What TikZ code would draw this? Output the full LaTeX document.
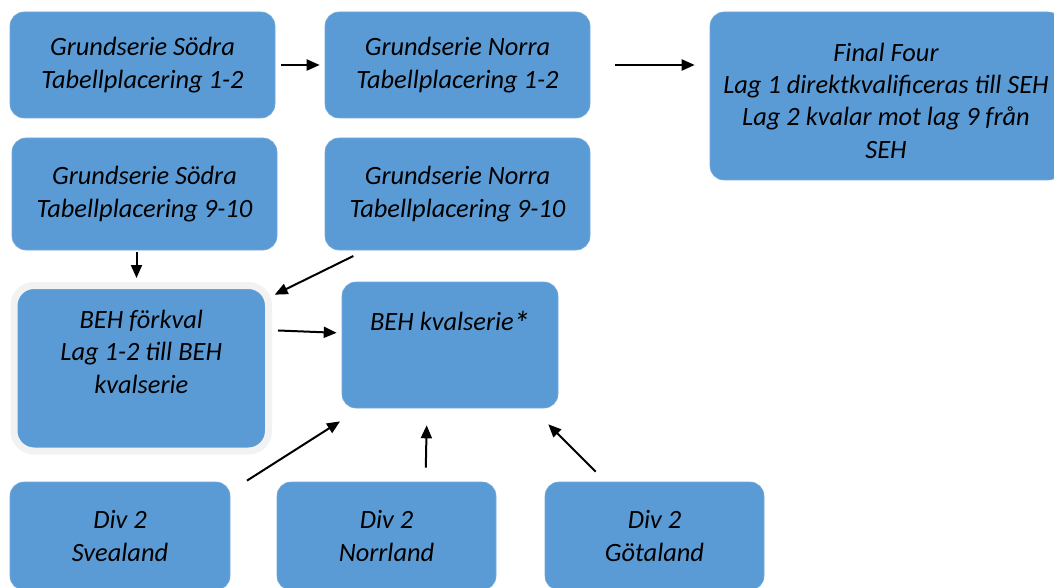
\documentclass[tikz,border=0pt]{standalone}
\usepackage{fontspec}
\setmainfont{Carlito}
\usepackage{xcolor}
\usepackage{tikz}
\usetikzlibrary{arrows.meta, positioning}
\definecolor{boxblue}{HTML}{5B9BD5}
\definecolor{rimgray}{HTML}{F2F2F2}

\begin{document}
\begin{tikzpicture}[
        x=1pt, y=-1pt,
        box/.style={rectangle, rounded corners=14pt, fill=boxblue, draw=boxblue!85!white, line width=0.6pt, align=center, inner sep=0pt, font=\itshape\fontsize{26.4}{32.3}\selectfont},
        txt/.style={align=center, inner sep=0pt, font=\itshape\fontsize{26.4}{32.3}\selectfont},
        arrow/.style={-{Triangle[length=13pt,width=11pt]}, line width=2pt}
    ]
        \useasboundingbox (0,0) rectangle (1054,588);
        \node[box, minimum width=265, minimum height=106] (GS1) at (142.5,65) {Grundserie Södra\\Tabellplacering 1-2};
        \node[box, minimum width=265, minimum height=106] (GN1) at (457.5,65) {Grundserie Norra\\Tabellplacering 1-2};
        \node[box, minimum width=352, minimum height=168] (FF) at (886,96) {};
        \node[txt, below=31pt of FF.north] (FFtext) {Final Four\\Lag 1 direktkvalificeras till SEH\\Lag 2 kvalar mot lag 9 från\\SEH};
        \node[box, minimum width=265, minimum height=112] (GS9) at (144.5,194) {Grundserie Södra\\Tabellplacering 9-10};
        \node[box, minimum width=265, minimum height=112] (GN9) at (457.5,194) {Grundserie Norra\\Tabellplacering 9-10};
        \node[box, draw=rimgray, line width=7pt, rounded corners=20pt, minimum width=254.5, minimum height=165.5] (FK) at (141.25,368.25) {};
        \node[txt, below=28pt of FK.north] (FKtext) {BEH förkval\\Lag 1-2 till BEH\\kvalserie};
        \node[box, minimum width=216, minimum height=126] (Kval) at (450,345) {};
        \node[txt, below=29pt of Kval.north] (Kvaltext) {BEH kvalserie\kern-1pt\raisebox{-5pt}{\scalebox{1.3}{*}}};
        \node[box, minimum width=220, minimum height=108] (SV) at (120,536) {Div 2\\Svealand};
        \node[box, minimum width=219, minimum height=108] (NO) at (386.5,536) {Div 2\\Norrland};
        \node[box, minimum width=219, minimum height=108] (GO) at (654.5,536) {Div 2\\Götaland};
        % arrows
        \draw[arrow, shorten <=6pt, shorten >=5pt] (GS1.east) -- (GN1.west);
        \draw[arrow, shorten <=25pt, shorten >=15pt] (GN1.east) -- (GN1.east -| FF.west);
        \draw[arrow, shorten <=2pt, shorten >=4pt] ([xshift=-8pt]GS9.south) -- ([xshift=-8pt]GS9.south |- FK.north);
        \draw[arrow, shorten <=13pt, shorten >=3pt] ([xshift=-92.5pt]GN9.south) -- ([yshift=-14pt]FK.north east);
        \draw[arrow, shorten <=6pt, shorten >=5pt] ([yshift=38pt]FK.east) -- ([yshift=12pt]Kval.west);
        \draw[arrow, shorten <=2pt, shorten >=2pt] ([xshift=15pt]SV.north east) -- ([yshift=-12pt]Kval.south west);
        \draw[arrow, shorten <=14pt, shorten >=17pt] ([xshift=39pt]NO.north) -- ([xshift=-23pt]Kval.south);
        \draw[arrow] ([xshift=51pt,yshift=10pt]GO.north west) -- ([xshift=-10pt,yshift=-16pt]Kval.south east);
    \end{tikzpicture}
\end{document}
